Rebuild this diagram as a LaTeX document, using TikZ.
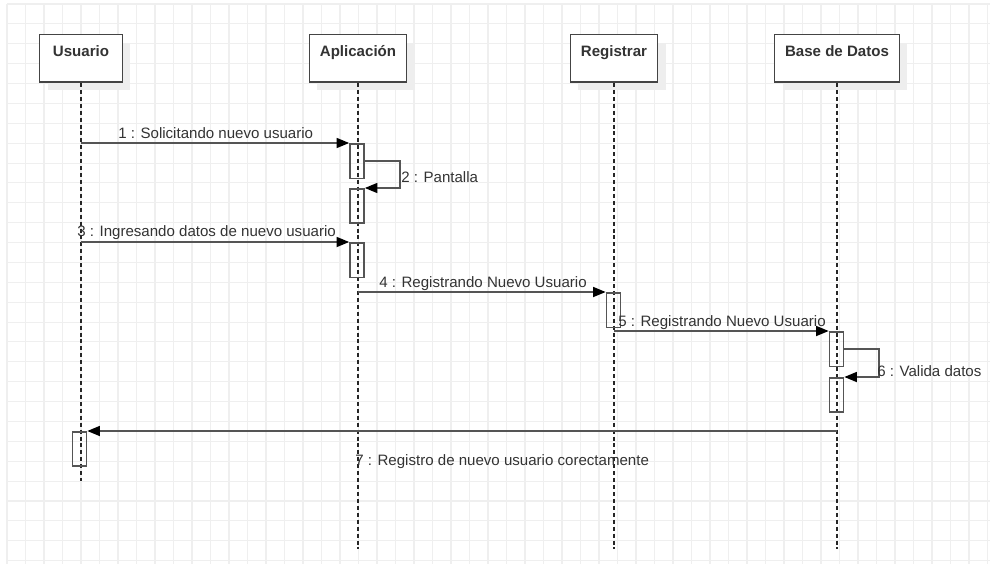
\documentclass[tikz,border=0pt]{standalone}
\usepackage{fontspec}
\setmainfont{Liberation Sans}
\usepackage{tikz}
\usetikzlibrary{positioning, arrows.meta, shadows}
\definecolor{seqLine}{HTML}{555555}
\definecolor{seqBox}{HTML}{444444}
\definecolor{seqText}{HTML}{333333}
\definecolor{seqGrid}{HTML}{EFEFEF}
\definecolor{seqShadow}{HTML}{EEEEEE}

\begin{document}
\begin{tikzpicture}[
    x=0.75pt, y=-0.75pt,
    actor/.style={
        draw=seqBox, line width=1.1pt, fill=white, anchor=north,
        font=\fontsize{11.3}{13}\selectfont\bfseries, text=seqText,
        inner xsep=0pt, inner ysep=0pt, text height=16.3pt, text depth=19.3pt,
        drop shadow={shadow xshift=6pt, shadow yshift=-6pt, fill=seqShadow, opacity=1}
    },
    act/.style={
        draw=seqLine, line width=1.2pt, anchor=north,
        minimum width=10.5pt, inner sep=0pt
    },
    lifeline/.style={draw=black!85, line width=0.8pt, dash pattern=on 3pt off 2.2pt},
    msg/.style={
        draw=seqLine, line width=1.3pt,
        -{Triangle[length=9.5pt, width=7.5pt, color=black]}
    },
    msglabel/.style={
        font=\fontsize{11.3}{13}\selectfont, text=seqText,
        inner sep=0pt, anchor=base west
    },
    gridline/.style={draw=seqGrid, line width=0.8pt},
]

\useasboundingbox (0,0) rectangle (990,564);

%% =================================================================
%% Background grid
%% =================================================================
\foreach \gx in {0,...,53}
    \draw[gridline] (7+18.5*\gx, 4) -- (7+18.5*\gx, 564);
\foreach \gy in {0,...,28}
    \draw[gridline] (7, 4+19.88*\gy) -- (990, 4+19.88*\gy);

%% =================================================================
%% Participants (top row)
%% =================================================================
\node[actor, minimum width=62pt] (usuario) at (81, 34) {Usuario};
\node[actor, minimum width=73pt] (aplicacion) at (358, 34) {Aplicación};
\node[actor, minimum width=65.5pt] (registrar) at (614, 34) {Registrar};
\node[actor, minimum width=93.5pt] (basedatos) at (837, 34) {Base de Datos};

%% Lifelines
\coordinate (usuarioEnd) at (81, 481);
\coordinate (lifeEnd) at (0, 549);
\draw[lifeline] (usuario.south) -- (usuarioEnd);
\draw[lifeline] (aplicacion.south) -- (aplicacion |- lifeEnd);
\draw[lifeline] (registrar.south) -- (registrar |- lifeEnd);
\draw[lifeline] (basedatos.south) -- (basedatos |- lifeEnd);

%% =================================================================
%% Activation bars
%% =================================================================
\node[act, minimum height=26pt] (actA1) at (357, 143) {};
\node[act, minimum height=25.5pt] (actA2) at (357, 188) {};
\node[act, minimum height=26pt] (actA3) at (357, 242) {};
\node[act, minimum height=26pt] (actR) at (613.5, 292) {};
\node[act, minimum height=26pt] (actB1) at (836.5, 331) {};
\node[act, minimum height=25.5pt] (actB2) at (836.5, 377) {};
\node[act, minimum height=25.5pt] (actU) at (79.5, 431) {};

%% =================================================================
%% Messages
%% =================================================================
\draw[msg] (usuario |- actA1.north west) -- (actA1.north west);
\draw[msg] (actA1.east) -- ++(35,0) |- (actA2.north east);
\draw[msg] (usuario |- actA3.north west) -- (actA3.north west);
\draw[msg] (aplicacion |- actR.north west) -- (actR.north west);
\draw[msg] (registrar |- actB1.north west) -- (actB1.north west);
\draw[msg] (actB1.east) -- ++(35,0) |- (actB2.north east);
\draw[msg] (basedatos |- actU.north east) -- (actU.north east);

%% Message labels
\node[msglabel] (lbl1) at (118, 138) {1 : Solicitando nuevo usuario};
\node[msglabel] (lbl2) at (401, 182) {2 : Pantalla};
\node[msglabel] (lbl3) at (77, 236) {3 : Ingresando datos de nuevo usuario};
\node[msglabel] (lbl4) at (379, 287) {4 : Registrando Nuevo Usuario};
\node[msglabel] (lbl5) at (618, 326) {5 : Registrando Nuevo Usuario};
\node[msglabel] (lbl6) at (877, 376) {6 : Valida datos};
\node[msglabel] (lbl7) at (355, 465) {7 : Registro de nuevo usuario corectamente};

\end{tikzpicture}
\end{document}
